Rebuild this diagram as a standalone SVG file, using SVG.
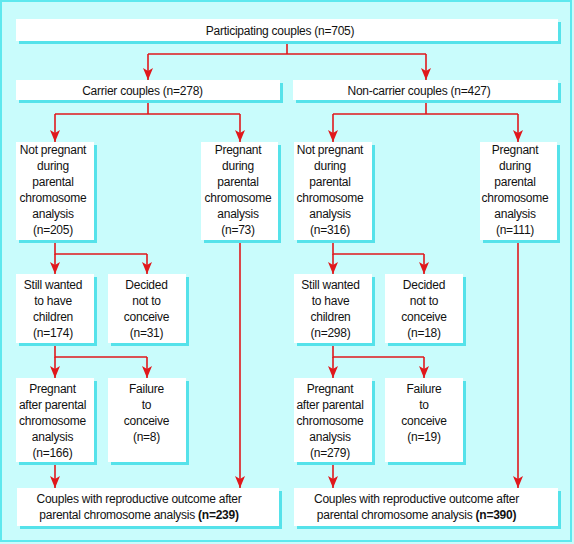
<svg xmlns="http://www.w3.org/2000/svg" width="574" height="544" viewBox="0 0 574 544">
<defs>
<style>
.bg{fill:#c9fcfc}
.frame{fill:none;stroke:#5ee8ee;stroke-width:2}
.sh{fill:#55e2ea}
.bx{fill:#ffffff}
.ln{fill:none;stroke:#e0181c;stroke-width:1.6}
.ar{fill:none;stroke:#e0181c;stroke-width:1.6;marker-end:url(#ah)}
text{font-family:"Liberation Sans",Arial,sans-serif;font-size:12px;letter-spacing:-0.25px;fill:#111;text-anchor:middle}
</style>
<marker id="ah" markerUnits="userSpaceOnUse" markerWidth="10" markerHeight="12" viewBox="0 0 10 12" refX="5" refY="12" orient="0">
<path d="M0,0 L5,3 L10,0 L5,12 Z" fill="#e0181c"/>
</marker>
</defs>
<rect class="bg" x="0" y="0" width="574" height="544"/>
<rect class="frame" x="1" y="1" width="570" height="540"/>

<g id="connectors">
<path class="ln" d="M287,41 V54 M148,54 H426"/>
<path class="ar" d="M148,54 V80"/>
<path class="ar" d="M426,54 V80"/>
<path class="ln" d="M148,100 V114 M55,114 H240"/>
<path class="ar" d="M55,114 V142"/>
<path class="ar" d="M240,114 V142"/>
<path class="ln" d="M426,100 V114 M333,114 H518"/>
<path class="ar" d="M333,114 V142"/>
<path class="ar" d="M518,114 V142"/>
<path class="ln" d="M55,240 V254 H147"/>
<path class="ar" d="M55,254 V274"/>
<path class="ar" d="M147,254 V274"/>
<path class="ln" d="M333,240 V254 H424"/>
<path class="ar" d="M333,254 V274"/>
<path class="ar" d="M424,254 V274"/>
<path class="ln" d="M55,343 V357 H147"/>
<path class="ar" d="M55,357 V378"/>
<path class="ar" d="M147,357 V378"/>
<path class="ln" d="M333,343 V357 H424"/>
<path class="ar" d="M333,357 V378"/>
<path class="ar" d="M424,357 V378"/>
<path class="ar" d="M55,462 V488"/>
<path class="ar" d="M333,462 V488"/>
<path class="ar" d="M240,240 V488"/>
<path class="ar" d="M518,240 V488"/>
</g>

<g id="participating">
<rect class="sh" x="19" y="22" width="542" height="22"/>
<rect class="bx" x="16" y="19" width="542" height="22"/>
<text x="280" y="35">Participating couples (n=705)</text>
</g>
<g id="carrier">
<rect class="sh" x="19" y="83" width="264" height="20"/>
<rect class="bx" x="16" y="80" width="264" height="20"/>
<text x="142.5" y="94.5">Carrier couples (n=278)</text>
</g>
<g id="noncarrier">
<rect class="sh" x="296" y="83" width="265" height="20"/>
<rect class="bx" x="293" y="80" width="265" height="20"/>
<text x="419" y="94.5">Non-carrier couples (n=427)</text>
</g>

<g id="c-notpregnant">
<rect class="sh" x="19" y="145" width="78" height="98"/>
<rect class="bx" x="16" y="142" width="78" height="98"/>
<text x="53" y="154">Not pregnant</text>
<text x="53" y="170">during</text>
<text x="53" y="186">parental</text>
<text x="53" y="202">chromosome</text>
<text x="53" y="218">analysis</text>
<text x="53" y="234">(n=205)</text>
</g>
<g id="c-pregnant">
<rect class="sh" x="204" y="145" width="77" height="98"/>
<rect class="bx" x="201" y="142" width="77" height="98"/>
<text x="238" y="154">Pregnant</text>
<text x="238" y="170">during</text>
<text x="238" y="186">parental</text>
<text x="238" y="202">chromosome</text>
<text x="238" y="218">analysis</text>
<text x="238" y="234">(n=73)</text>
</g>
<g id="n-notpregnant">
<rect class="sh" x="297" y="145" width="78" height="98"/>
<rect class="bx" x="294" y="142" width="78" height="98"/>
<text x="330" y="154">Not pregnant</text>
<text x="330" y="170">during</text>
<text x="330" y="186">parental</text>
<text x="330" y="202">chromosome</text>
<text x="330" y="218">analysis</text>
<text x="330" y="234">(n=316)</text>
</g>
<g id="n-pregnant">
<rect class="sh" x="483" y="145" width="77" height="98"/>
<rect class="bx" x="480" y="142" width="77" height="98"/>
<text x="515" y="154">Pregnant</text>
<text x="515" y="170">during</text>
<text x="515" y="186">parental</text>
<text x="515" y="202">chromosome</text>
<text x="515" y="218">analysis</text>
<text x="515" y="234">(n=111)</text>
</g>

<g id="c-still">
<rect class="sh" x="19" y="277" width="78" height="69"/>
<rect class="bx" x="16" y="274" width="78" height="69"/>
<text x="53" y="289">Still wanted</text>
<text x="53" y="305">to have</text>
<text x="53" y="321">children</text>
<text x="53" y="337">(n=174)</text>
</g>
<g id="c-decided">
<rect class="sh" x="111" y="277" width="78" height="69"/>
<rect class="bx" x="108" y="274" width="78" height="69"/>
<text x="146.5" y="289">Decided</text>
<text x="146.5" y="305">not to</text>
<text x="146.5" y="321">conceive</text>
<text x="146.5" y="337">(n=31)</text>
</g>
<g id="n-still">
<rect class="sh" x="297" y="277" width="78" height="69"/>
<rect class="bx" x="294" y="274" width="78" height="69"/>
<text x="330.5" y="289">Still wanted</text>
<text x="330.5" y="305">to have</text>
<text x="330.5" y="321">children</text>
<text x="330.5" y="337">(n=298)</text>
</g>
<g id="n-decided">
<rect class="sh" x="388" y="277" width="78" height="69"/>
<rect class="bx" x="385" y="274" width="78" height="69"/>
<text x="424" y="289">Decided</text>
<text x="424" y="305">not to</text>
<text x="424" y="321">conceive</text>
<text x="424" y="337">(n=18)</text>
</g>

<g id="c-pregafter">
<rect class="sh" x="19" y="381" width="78" height="84"/>
<rect class="bx" x="16" y="378" width="78" height="84"/>
<text x="52.5" y="393">Pregnant</text>
<text x="52.5" y="409">after parental</text>
<text x="52.5" y="425">chromosome</text>
<text x="52.5" y="441">analysis</text>
<text x="52.5" y="457">(n=166)</text>
</g>
<g id="c-failure">
<rect class="sh" x="111" y="381" width="78" height="84"/>
<rect class="bx" x="108" y="378" width="78" height="84"/>
<text x="146.5" y="393">Failure</text>
<text x="146.5" y="409">to</text>
<text x="146.5" y="425">conceive</text>
<text x="146.5" y="441">(n=8)</text>
</g>
<g id="n-pregafter">
<rect class="sh" x="297" y="381" width="78" height="84"/>
<rect class="bx" x="294" y="378" width="78" height="84"/>
<text x="330" y="393">Pregnant</text>
<text x="330" y="409">after parental</text>
<text x="330" y="425">chromosome</text>
<text x="330" y="441">analysis</text>
<text x="330" y="457">(n=279)</text>
</g>
<g id="n-failure">
<rect class="sh" x="388" y="381" width="78" height="84"/>
<rect class="bx" x="385" y="378" width="78" height="84"/>
<text x="424" y="393">Failure</text>
<text x="424" y="409">to</text>
<text x="424" y="425">conceive</text>
<text x="424" y="441">(n=19)</text>
</g>

<g id="c-outcome">
<rect class="sh" x="20" y="491" width="262" height="38"/>
<rect class="bx" x="17" y="488" width="262" height="38"/>
<text x="139" y="503">Couples with reproductive outcome after</text>
<text x="139" y="519">parental chromosome analysis <tspan font-weight="bold">(n=239)</tspan></text>
</g>
<g id="n-outcome">
<rect class="sh" x="297" y="491" width="264" height="38"/>
<rect class="bx" x="294" y="488" width="264" height="38"/>
<text x="416.5" y="503">Couples with reproductive outcome after</text>
<text x="416.5" y="519">parental chromosome analysis <tspan font-weight="bold">(n=390)</tspan></text>
</g>
</svg>
